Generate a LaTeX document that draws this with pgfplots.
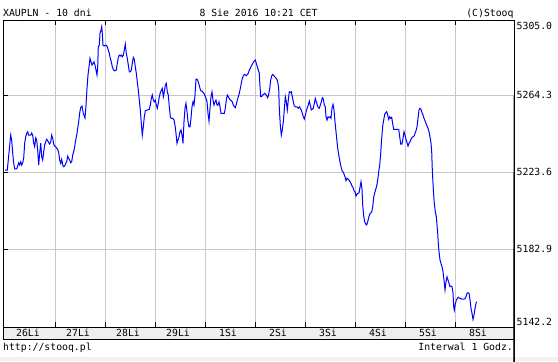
\documentclass[border=0pt]{standalone}
\usepackage{pgfplots}
\pgfplotsset{compat=1.18}
\usepackage{fontspec}
\setmonofont{DejaVu Sans Mono}
\definecolor{gridc}{RGB}{200,200,200}
\definecolor{bandc}{RGB}{238,238,238}
\definecolor{stripc}{RGB}{242,242,242}
\begin{document}
\begin{tikzpicture}[x=1bp,y=1bp,font=\ttfamily\fontsize{9.8bp}{11bp}\selectfont]
\useasboundingbox[fill=white] (0,0) rectangle (558,361);
\fill[stripc] (0,0) rectangle (558,4);
\fill[bandc] (3,22) rectangle (514,34);
\begin{axis}[
  at={(3bp,34bp)}, anchor=south west,
  scale only axis, width=511bp, height=307bp,
  xmin=-0.04, xmax=10.18, ymin=5141.8, ymax=5304.1,
  axis line style={black, line width=1bp},
  xtick={1,...,9}, ytick={5182.9,5223.6,5264.3},
  xticklabels={}, yticklabels={},
  grid=major, grid style={gridc, line width=1bp},
  tick align=inside, major tick length=5bp, tick style={black, line width=1bp},
  ytick pos=left, xtick pos=both,
  clip=false,
]
\addplot[blue, line width=1bp] coordinates {
(0.0,5224.8)(0.046,5224.8)(0.114,5243.3)(0.134,5240.7)(0.154,5233.8)(0.174,5228.5)(0.194,5225.4)(0.234,5225.4)(0.254,5227.0)(0.274,5228.7)(0.294,5227.5)(0.314,5229.2)(0.334,5227.5)(0.354,5228.7)(0.374,5231.2)(0.394,5239.1)(0.414,5242.4)(0.434,5244.2)(0.454,5245.1)(0.474,5243.3)(0.514,5243.3)(0.534,5244.4)(0.554,5243.3)(0.574,5239.1)(0.594,5237.2)(0.614,5241.8)(0.634,5240.7)(0.654,5235.4)(0.674,5227.5)(0.694,5233.8)(0.714,5239.1)(0.734,5231.9)(0.754,5230.1)(0.774,5234.5)(0.794,5238.1)(0.814,5239.8)(0.834,5241.1)(0.854,5240.3)(0.874,5239.3)(0.894,5238.6)(0.914,5239.8)(0.934,5243.3)(0.954,5241.6)(0.974,5238.6)(0.994,5237.5)(1.014,5237.2)(1.034,5236.3)(1.054,5235.8)(1.074,5234.0)(1.094,5230.1)(1.114,5228.4)(1.134,5230.5)(1.154,5227.5)(1.174,5226.6)(1.194,5227.0)(1.214,5228.4)(1.234,5229.2)(1.254,5232.2)(1.274,5231.0)(1.294,5230.1)(1.314,5228.7)(1.334,5229.2)(1.354,5232.8)(1.374,5234.5)(1.394,5237.2)(1.414,5240.7)(1.434,5243.3)(1.454,5246.9)(1.474,5250.4)(1.494,5255.0)(1.514,5258.0)(1.54,5258.7)(1.566,5254.8)(1.6,5252.3)(1.62,5259.2)(1.64,5268.0)(1.66,5275.1)(1.68,5279.4)(1.7,5283.9)(1.72,5282.1)(1.74,5280.3)(1.76,5281.2)(1.78,5282.1)(1.8,5280.3)(1.82,5277.7)(1.84,5275.1)(1.854,5279.4)(1.866,5290.0)(1.886,5290.9)(1.9,5297.1)(1.92,5298.8)(1.934,5300.6)(1.946,5297.1)(1.96,5290.9)(1.98,5290.4)(2.014,5290.9)(2.04,5290.4)(2.066,5288.3)(2.086,5286.5)(2.106,5283.9)(2.126,5282.1)(2.146,5279.4)(2.166,5278.1)(2.186,5277.3)(2.226,5277.7)(2.246,5281.2)(2.266,5284.4)(2.286,5285.6)(2.306,5285.1)(2.326,5285.6)(2.346,5284.7)(2.366,5285.6)(2.386,5288.3)(2.406,5291.4)(2.426,5286.5)(2.446,5283.9)(2.466,5280.3)(2.486,5276.8)(2.506,5276.8)(2.526,5277.7)(2.546,5281.2)(2.566,5284.4)(2.586,5283.4)(2.606,5279.4)(2.626,5276.0)(2.646,5271.5)(2.666,5267.1)(2.686,5261.8)(2.706,5256.6)(2.726,5249.5)(2.746,5243.3)(2.766,5247.7)(2.786,5253.0)(2.806,5256.2)(2.846,5256.6)(2.886,5256.9)(2.906,5259.2)(2.926,5262.7)(2.946,5264.5)(2.966,5261.8)(2.986,5260.9)(3.006,5261.8)(3.026,5259.2)(3.046,5257.5)(3.066,5260.1)(3.086,5263.6)(3.106,5265.7)(3.126,5266.8)(3.146,5268.0)(3.166,5263.6)(3.186,5266.2)(3.206,5269.8)(3.226,5270.7)(3.246,5266.2)(3.266,5264.5)(3.286,5258.3)(3.306,5253.0)(3.326,5252.2)(3.354,5252.2)(3.38,5251.3)(3.4,5248.6)(3.42,5244.2)(3.44,5239.0)(3.46,5240.7)(3.48,5242.4)(3.5,5245.1)(3.52,5246.0)(3.54,5243.3)(3.56,5239.0)(3.58,5250.4)(3.6,5257.5)(3.62,5260.1)(3.64,5255.7)(3.66,5250.4)(3.68,5247.7)(3.7,5247.7)(3.72,5252.2)(3.74,5258.3)(3.76,5260.9)(3.78,5259.2)(3.8,5264.5)(3.82,5272.9)(3.84,5272.9)(3.86,5271.9)(3.88,5270.1)(3.9,5268.0)(3.92,5266.6)(3.94,5266.6)(3.96,5265.9)(3.98,5265.4)(4.0,5264.1)(4.02,5262.7)(4.04,5260.9)(4.06,5254.8)(4.08,5250.7)(4.1,5257.5)(4.12,5263.6)(4.14,5266.2)(4.16,5261.8)(4.18,5259.2)(4.2,5260.9)(4.22,5261.8)(4.24,5259.2)(4.26,5259.2)(4.28,5260.9)(4.3,5258.3)(4.32,5254.8)(4.386,5254.8)(4.406,5257.5)(4.426,5261.8)(4.446,5264.5)(4.466,5263.6)(4.486,5262.7)(4.506,5261.8)(4.526,5261.5)(4.546,5260.9)(4.566,5259.2)(4.586,5258.3)(4.606,5257.8)(4.626,5259.6)(4.646,5261.8)(4.666,5263.6)(4.686,5265.4)(4.706,5268.0)(4.726,5270.7)(4.746,5273.3)(4.766,5274.7)(4.786,5275.4)(4.806,5275.1)(4.826,5274.7)(4.846,5275.4)(4.866,5276.0)(4.886,5277.7)(4.906,5278.6)(4.926,5280.0)(4.946,5280.7)(4.966,5281.8)(4.986,5282.5)(5.006,5283.0)(5.026,5281.2)(5.046,5279.4)(5.066,5277.7)(5.086,5276.0)(5.094,5271.5)(5.114,5263.6)(5.134,5263.6)(5.154,5264.5)(5.174,5264.9)(5.194,5265.4)(5.214,5264.9)(5.234,5264.1)(5.254,5263.1)(5.274,5264.9)(5.294,5268.0)(5.314,5272.4)(5.334,5274.7)(5.354,5275.4)(5.374,5274.8)(5.394,5274.2)(5.414,5273.6)(5.434,5272.9)(5.454,5271.5)(5.474,5268.0)(5.486,5257.5)(5.506,5248.6)(5.526,5243.3)(5.546,5246.0)(5.566,5250.4)(5.586,5256.6)(5.606,5263.6)(5.626,5260.9)(5.646,5256.6)(5.666,5261.8)(5.686,5266.2)(5.706,5265.9)(5.726,5266.2)(5.746,5263.6)(5.766,5260.9)(5.786,5258.8)(5.806,5258.3)(5.826,5258.3)(5.846,5258.0)(5.866,5257.5)(5.886,5258.3)(5.906,5257.5)(5.926,5256.6)(5.946,5254.8)(5.966,5253.0)(5.986,5251.8)(6.006,5253.9)(6.026,5256.0)(6.046,5257.8)(6.066,5259.2)(6.086,5261.3)(6.106,5259.2)(6.126,5256.6)(6.146,5257.1)(6.166,5257.5)(6.186,5260.1)(6.206,5262.7)(6.226,5260.9)(6.246,5259.2)(6.266,5257.8)(6.286,5257.5)(6.306,5259.2)(6.326,5260.9)(6.346,5263.1)(6.366,5262.4)(6.386,5259.2)(6.406,5258.3)(6.42,5253.0)(6.44,5251.3)(6.46,5253.0)(6.48,5252.5)(6.5,5253.0)(6.52,5252.2)(6.54,5257.5)(6.56,5259.6)(6.58,5256.6)(6.6,5250.4)(6.62,5245.1)(6.64,5239.8)(6.66,5235.4)(6.68,5231.9)(6.7,5229.2)(6.72,5226.6)(6.74,5224.5)(6.76,5223.9)(6.78,5222.7)(6.8,5221.3)(6.82,5219.2)(6.84,5220.5)(6.86,5220.1)(6.88,5219.6)(6.9,5218.7)(6.92,5217.8)(6.94,5216.4)(6.96,5215.7)(6.98,5213.9)(7.0,5213.4)(7.02,5211.1)(7.04,5212.2)(7.06,5212.5)(7.08,5212.8)(7.1,5215.7)(7.12,5218.7)(7.14,5214.6)(7.154,5206.3)(7.174,5200.5)(7.194,5197.5)(7.214,5196.3)(7.234,5195.8)(7.254,5197.5)(7.274,5199.8)(7.294,5201.6)(7.314,5202.0)(7.334,5202.8)(7.354,5205.4)(7.374,5210.4)(7.394,5212.8)(7.414,5214.6)(7.434,5216.4)(7.454,5219.6)(7.474,5223.9)(7.494,5227.5)(7.514,5233.7)(7.534,5241.6)(7.554,5248.1)(7.574,5251.3)(7.594,5254.4)(7.614,5255.1)(7.634,5255.7)(7.654,5253.9)(7.674,5251.6)(7.694,5253.0)(7.714,5252.2)(7.734,5252.7)(7.754,5249.2)(7.774,5246.4)(7.874,5246.4)(7.894,5242.4)(7.914,5238.6)(7.94,5238.6)(7.96,5241.6)(7.98,5245.1)(8.0,5243.3)(8.02,5241.1)(8.04,5239.3)(8.06,5237.5)(8.08,5239.0)(8.1,5239.8)(8.12,5241.1)(8.14,5242.1)(8.16,5242.4)(8.18,5242.8)(8.2,5244.2)(8.22,5245.6)(8.24,5247.7)(8.26,5252.2)(8.28,5256.6)(8.3,5257.5)(8.32,5256.9)(8.34,5255.1)(8.36,5253.9)(8.38,5252.2)(8.4,5250.9)(8.42,5249.5)(8.44,5248.1)(8.46,5246.9)(8.48,5245.1)(8.5,5242.4)(8.52,5239.0)(8.534,5234.5)(8.546,5224.8)(8.56,5217.8)(8.574,5211.6)(8.586,5207.2)(8.606,5202.8)(8.626,5200.1)(8.64,5195.8)(8.654,5191.4)(8.666,5186.1)(8.68,5181.6)(8.7,5177.3)(8.72,5175.5)(8.74,5173.7)(8.76,5171.1)(8.78,5166.7)(8.8,5161.4)(8.82,5165.8)(8.84,5168.4)(8.86,5166.7)(8.88,5165.0)(8.9,5163.2)(8.92,5163.5)(8.94,5163.2)(8.96,5160.0)(8.974,5152.6)(8.986,5150.8)(9.006,5154.0)(9.026,5156.1)(9.046,5157.0)(9.066,5157.6)(9.086,5157.2)(9.134,5156.6)(9.174,5156.6)(9.2,5156.8)(9.22,5157.9)(9.24,5159.7)(9.26,5160.0)(9.28,5159.7)(9.3,5156.1)(9.32,5151.7)(9.34,5149.1)(9.36,5145.9)(9.38,5148.2)(9.4,5151.7)(9.42,5154.4)(9.434,5155.2)
};
\pgfplotsinvokeforeach{5182.9,5223.6,5264.3}{
  \draw[black, line width=1bp] (axis cs:10.18,#1) -- ++(3bp,0);
  \node[anchor=west, inner sep=0pt] at ([xshift=2.5bp]axis cs:10.18,#1) {#1};
}
\node[anchor=base, inner sep=0pt] at (axis cs:0.46,5141.8) [yshift=-9.5bp] {26Li};
\node[anchor=base, inner sep=0pt] at (axis cs:1.46,5141.8) [yshift=-9.5bp] {27Li};
\node[anchor=base, inner sep=0pt] at (axis cs:2.46,5141.8) [yshift=-9.5bp] {28Li};
\node[anchor=base, inner sep=0pt] at (axis cs:3.46,5141.8) [yshift=-9.5bp] {29Li};
\node[anchor=base, inner sep=0pt] at (axis cs:4.46,5141.8) [yshift=-9.5bp] {1Si};
\node[anchor=base, inner sep=0pt] at (axis cs:5.46,5141.8) [yshift=-9.5bp] {2Si};
\node[anchor=base, inner sep=0pt] at (axis cs:6.46,5141.8) [yshift=-9.5bp] {3Si};
\node[anchor=base, inner sep=0pt] at (axis cs:7.46,5141.8) [yshift=-9.5bp] {4Si};
\node[anchor=base, inner sep=0pt] at (axis cs:8.46,5141.8) [yshift=-9.5bp] {5Si};
\node[anchor=base, inner sep=0pt] at (axis cs:9.46,5141.8) [yshift=-9.5bp] {8Si};
\end{axis}
\draw[black, line width=1bp] (3,22) rectangle (514,34);
\node[anchor=west, inner sep=0pt] at (516.5,335) {5305.0};
\node[anchor=west, inner sep=0pt] at (516.5,39.3) {5142.2};
\node[anchor=base west, inner sep=0pt] at (3,344.5) {XAUPLN - 10 dni};
\node[anchor=base, inner sep=0pt] at (258.5,344.5) {8 Sie 2016 10:21 CET};
\node[anchor=base east, inner sep=0pt] at (513.7,344.5) {(C)Stooq};
\node[anchor=base west, inner sep=0pt] at (3,10.7) {http://stooq.pl};
\node[anchor=base east, inner sep=0pt] at (513,10.7) {Interwal 1 Godz.};
\end{tikzpicture}
\end{document}
